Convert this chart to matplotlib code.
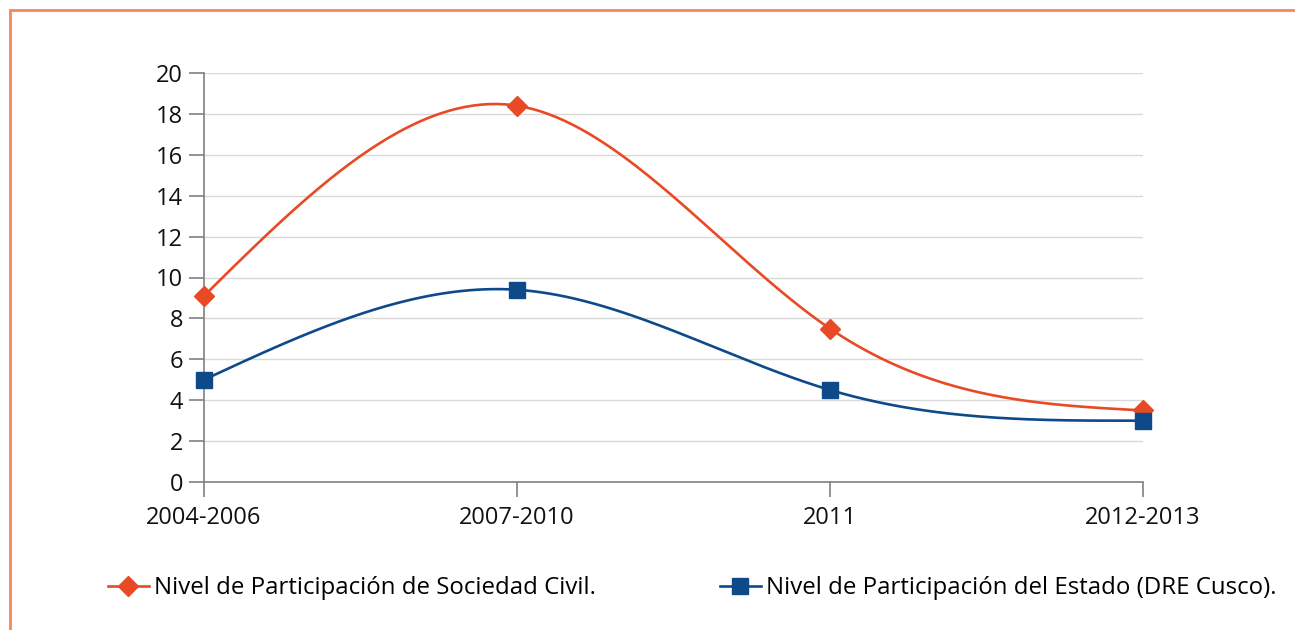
import numpy as np
import matplotlib
matplotlib.use("Agg")
import matplotlib.pyplot as plt
from matplotlib.lines import Line2D
from matplotlib.patches import Rectangle

categories = ["2004-2006", "2007-2010", "2011", "2012-2013"]
sociedad_civil = [9.1, 18.4, 7.5, 3.5]
estado = [5.0, 9.4, 4.5, 3.0]
label_civil = "Nivel de Participación de Sociedad Civil."
label_estado = "Nivel de Participación del Estado (DRE Cusco)."
yticks = [0, 2, 4, 6, 8, 10, 12, 14, 16, 18, 20]

ORANGE = "#E84A26"
BLUE = "#0E4A8A"
FRAME = "#F4875A"

plt.rcParams['font.family'] = ['Open Sans', 'DejaVu Sans']


def natural_spline(xs, ys, n=80):
    """Natural cubic spline through the points."""
    xs = np.asarray(xs, float)
    ys = np.asarray(ys, float)
    k = len(xs)
    h = np.diff(xs)
    A = np.zeros((k, k))
    b = np.zeros(k)
    A[0, 0] = 1
    A[-1, -1] = 1
    for i in range(1, k - 1):
        A[i, i - 1] = h[i - 1]
        A[i, i] = 2 * (h[i - 1] + h[i])
        A[i, i + 1] = h[i]
        b[i] = 6 * ((ys[i + 1] - ys[i]) / h[i] - (ys[i] - ys[i - 1]) / h[i - 1])
    M = np.linalg.solve(A, b)
    outx, outy = [], []
    for i in range(k - 1):
        t = np.linspace(xs[i], xs[i + 1], n)
        a = xs[i + 1] - t
        c = t - xs[i]
        hi = h[i]
        y = (M[i] * a ** 3 / (6 * hi) + M[i + 1] * c ** 3 / (6 * hi)
             + (ys[i] / hi - M[i] * hi / 6) * a + (ys[i + 1] / hi - M[i + 1] * hi / 6) * c)
        if i > 0:
            t, y = t[1:], y[1:]
        outx.append(t)
        outy.append(y)
    return np.concatenate(outx), np.concatenate(outy)


fig = plt.figure(figsize=(12.95, 6.30), dpi=100)
W, H = 1295, 630
ax = fig.add_axes([204 / W, 1 - 482 / H, (1143 - 204) / W, (482 - 73) / H])

x = np.arange(len(categories))
for vals, col, mk, ms in [(sociedad_civil, ORANGE, "D", 10.5), (estado, BLUE, "s", 12)]:
    sx, sy = natural_spline(x, vals)
    ax.plot(sx, sy, color=col, lw=1.9, zorder=3, clip_on=False)
    ax.plot(x, vals, linestyle="none", marker=mk, ms=ms, color=col, zorder=4, clip_on=False)

ax.set_xlim(0, 3)
ax.set_ylim(0, 20)
ax.set_yticks(yticks)
ax.set_xticks(x)
ax.set_xticklabels(categories)
ax.yaxis.grid(True, color="#D9D9D9", lw=1)
ax.set_axisbelow(True)
for s in ["top", "right"]:
    ax.spines[s].set_visible(False)
for s in ["left", "bottom"]:
    ax.spines[s].set_color("#808080")
    ax.spines[s].set_linewidth(1.2)
ax.tick_params(axis="both", colors="#808080", labelcolor="#111111", labelsize=17, length=11, width=1.2)
ax.tick_params(axis="x", pad=6)
ax.tick_params(axis="y", pad=4)

handles = [
    Line2D([], [], color=ORANGE, lw=1.9, marker="D", ms=10),
    Line2D([], [], color=BLUE, lw=1.9, marker="s", ms=11),
]
fig.legend(handles[:1], [label_civil], loc="center left", bbox_to_anchor=(108 / W, 1 - 588 / H),
           frameon=False, fontsize=17.3, handlelength=1.7, handletextpad=0.2, borderpad=0,
           borderaxespad=0)
fig.legend(handles[1:], [label_estado], loc="center left", bbox_to_anchor=(720 / W, 1 - 588 / H),
           frameon=False, fontsize=17.3, handlelength=1.7, handletextpad=0.2, borderpad=0,
           borderaxespad=0)

fig.patches.append(Rectangle((10 / W, -0.1), 1.2, 1 - 10 / H + 0.1, transform=fig.transFigure,
                             fill=False, edgecolor=FRAME, lw=2, zorder=0))

fig.savefig("out.png", dpi=100)
